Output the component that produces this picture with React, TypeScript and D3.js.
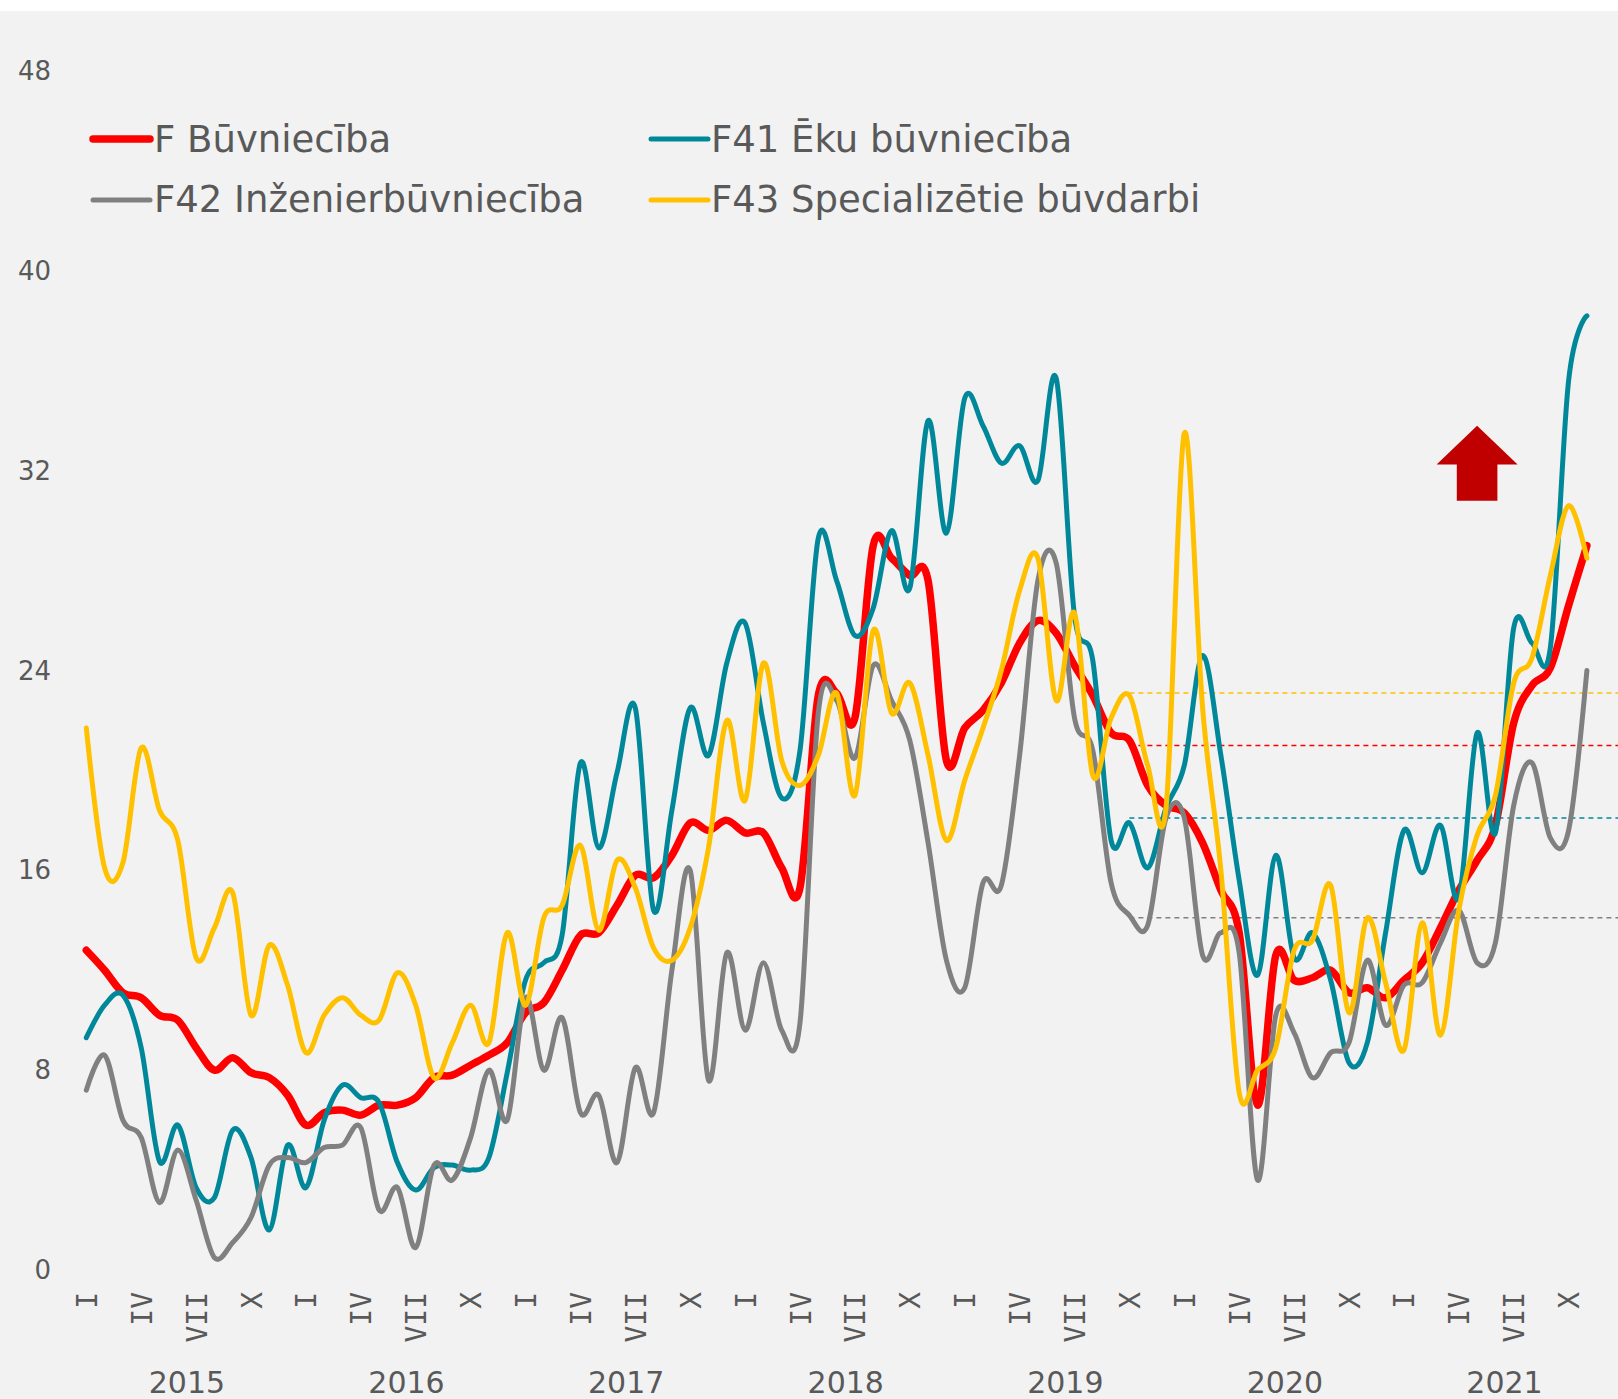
import React from 'react';
import * as d3 from 'd3';

// Monthly data, Jan 2015 .. Nov 2021
const seriesNames = ['F Būvniecība', 'F41 Ēku būvniecība', 'F42 Inženierbūvniecība', 'F43 Specializētie būvdarbi'];
const seriesColors = ['#FF0000', '#00889A', '#808080', '#FFC000'];

const valuesF = [
  12.8, 12.0, 11.1, 10.9, 10.2, 10.0, 8.9, 8.0, 8.5, 7.9, 7.7, 7.0,
  5.8, 6.3, 6.4, 6.2, 6.6, 6.6, 6.9, 7.7, 7.8, 8.2, 8.6, 9.1,
  10.3, 10.7, 12.0, 13.4, 13.5, 14.6, 15.8, 15.7, 16.6, 17.9, 17.6, 18.0,
  17.5, 17.5, 16.1, 15.3, 23.0, 23.1, 22.1, 29.0, 28.5, 27.8, 27.6, 20.4,
  21.7, 22.4, 23.5, 25.1, 26.0, 25.5, 24.2, 23.0, 21.5, 21.2, 19.4, 18.6,
  18.3, 17.1, 15.2, 13.5, 6.6, 12.6, 11.6, 11.7, 12.0, 11.1, 11.3, 10.9,
  11.6, 12.3, 13.7, 15.2, 16.4, 17.8, 21.9, 23.4, 24.1, 26.6, 29.0,
];
const valuesF41 = [
  9.3, 10.6, 11.0, 8.9, 4.35, 5.8, 3.3, 2.9, 5.6, 4.5, 1.6, 5.0,
  3.3, 6.0, 7.4, 6.9, 6.7, 4.3, 3.2, 4.1, 4.2, 4.0, 4.5, 7.9,
  11.6, 12.3, 13.4, 20.3, 16.9, 19.9, 22.5, 14.4, 18.4, 22.5, 20.6, 24.3,
  25.9, 21.9, 18.9, 20.8, 29.3, 27.6, 25.4, 26.5, 29.6, 27.3, 34.0, 29.5,
  34.9, 33.8, 32.3, 33.0, 31.6, 35.7, 26.2, 24.4, 17.2, 17.9, 16.1, 18.5,
  20.2, 24.6, 20.6, 15.6, 11.8, 16.6, 12.5, 13.5, 11.6, 8.3, 9.1, 13.5,
  17.6, 15.9, 17.8, 14.9, 21.5, 17.5, 25.7, 25.1, 24.9, 35.6, 38.2,
];
const valuesF42 = [
  7.2, 8.6, 6.0, 5.3, 2.7, 4.8, 2.8, 0.5, 1.1, 2.1, 4.2, 4.5,
  4.3, 4.9, 5.0, 5.7, 2.4, 3.3, 0.9, 4.2, 3.6, 5.3, 8.0, 6.0,
  10.9, 8.0, 10.1, 6.3, 7.0, 4.3, 8.1, 6.3, 12.0, 16.0, 7.6, 12.7,
  9.6, 12.3, 9.6, 9.9, 22.3, 22.8, 20.5, 24.2, 22.8, 21.2, 17.1, 12.4,
  11.3, 15.5, 15.4, 20.6, 27.6, 28.3, 22.1, 20.8, 15.5, 14.2, 13.8, 18.1,
  18.1, 12.6, 13.5, 12.7, 3.6, 10.2, 9.5, 7.7, 8.7, 9.1, 12.4, 9.8,
  11.4, 11.5, 13.1, 14.4, 12.3, 13.1, 18.6, 20.3, 17.3, 17.6, 24.0,
];
const valuesF43 = [
  21.7, 16.1, 16.3, 20.9, 18.4, 17.2, 12.5, 13.7, 15.1, 10.2, 13.0, 11.4,
  8.7, 10.2, 10.9, 10.2, 10.0, 11.9, 10.6, 7.7, 9.1, 10.6, 9.1, 13.5,
  10.6, 14.1, 14.6, 17.0, 13.6, 16.4, 15.3, 12.9, 12.4, 13.7, 16.9, 22.0,
  18.8, 24.3, 20.4, 19.4, 20.6, 23.1, 19.0, 25.6, 22.3, 23.5, 20.6, 17.2,
  19.6, 21.7, 24.0, 27.2, 28.5, 22.8, 26.3, 19.8, 22.1, 23.0, 20.2, 18.5,
  33.5, 22.5, 16.0, 7.1, 8.0, 8.9, 12.8, 13.2, 15.4, 10.3, 14.1, 11.5,
  8.8, 13.9, 9.4, 14.4, 17.4, 19.0, 23.5, 24.5, 27.8, 30.6, 28.5,
];
// reference (average) levels, drawn from Oct 2019 onward
const averages = [21.0, 18.1, 14.1, 23.1];
const averageStartMonth = 57;

const monthTickLabels = ['I', 'IV', 'VII', 'X'];
const monthTickOffsets = [0, 3, 6, 9];
const yearLabels = ['2015', '2016', '2017', '2018', '2019', '2020', '2021'];
const yTicks = [0, 8, 16, 24, 32, 40, 48];

const FONT = '"DejaVu Sans", Verdana, sans-serif';
const MONTH_FONT = '"DejaVu Sans Mono", "DejaVu Sans", monospace';
const TEXT = '#595959';

export default function App() {
  const W = 1618;
  const H = 1399;
  const allSeries = [valuesF, valuesF41, valuesF42, valuesF43];
  const n = valuesF.length;
  const x = d3.scaleLinear().domain([0, 82]).range([86.3, 86.3 + 18.3 * 82]);
  const y = d3.scaleLinear().domain([0, 48]).range([1270, 71]);
  const line = d3
    .line<number>()
    .x((_, i) => x(i))
    .y((d) => y(d))
    .curve(d3.curveCatmullRom.alpha(0));

  const monthTicks: { m: number; label: string }[] = [];
  yearLabels.forEach((_, yi) => {
    monthTickOffsets.forEach((off, k) => {
      const m = yi * 12 + off;
      if (m < n) monthTicks.push({ m, label: monthTickLabels[k] });
    });
  });

  // arrow annotation (positioned through the scales)
  const ax = x(76);
  const aTip = y(33.8);
  const aShoulder = y(32.25);
  const aBottom = y(30.8);
  const arrowPts = [
    [ax, aTip],
    [ax + 40.5, aShoulder],
    [ax + 20.3, aShoulder],
    [ax + 20.3, aBottom],
    [ax - 20.3, aBottom],
    [ax - 20.3, aShoulder],
    [ax - 40.5, aShoulder],
  ]
    .map((p) => p.join(','))
    .join(' ');

  const legendItems = [
    { i: 0, lx: 93, ly: 139, tx: 154, ty: 152 },
    { i: 1, lx: 651, ly: 139, tx: 711, ty: 152 },
    { i: 2, lx: 93, ly: 200, tx: 154, ty: 212 },
    { i: 3, lx: 651, ly: 200, tx: 711, ty: 212 },
  ];

  return (
    <svg
      width={W}
      height={H}
      style={{ position: 'absolute', left: 0, top: 0 }}
      fontFamily={FONT}
    >
      <rect x={0} y={0} width={W} height={H} fill="#ffffff" />
      <rect x={0} y={11} width={W} height={H - 11} fill="#F2F2F2" />

      {/* y tick labels */}
      {yTicks.map((v) => (
        <text
          key={v}
          x={51}
          y={y(v)}
          textAnchor="end"
          dominantBaseline="central"
          fontSize={26}
          fill={TEXT}
        >
          {v}
        </text>
      ))}

      {/* month labels */}
      {monthTicks.map((t) => (
        <text
          key={t.m}
          transform={`translate(${x(t.m) + 1},1292) rotate(-90)`}
          textAnchor="end"
          dominantBaseline="central"
          fontSize={28}
          fontFamily={MONTH_FONT}
          fill={TEXT}
        >
          {t.label}
        </text>
      ))}

      {/* year labels */}
      {yearLabels.map((yl, yi) => (
        <text
          key={yl}
          x={x(yi * 12 + 5.5)}
          y={1393}
          textAnchor="middle"
          fontSize={30}
          fill={TEXT}
        >
          {yl}
        </text>
      ))}

      {/* average dashed lines */}
      {averages.map((a, i) => (
        <line
          key={'avg' + i}
          x1={x(averageStartMonth)}
          x2={W}
          y1={y(a)}
          y2={y(a)}
          stroke={seriesColors[i]}
          strokeWidth={1.5}
          strokeDasharray="5 4"
        />
      ))}

      {/* series */}
      {allSeries.map((s, i) => (
        <path
          key={'s' + i}
          d={line(s) || ''}
          fill="none"
          stroke={seriesColors[i]}
          strokeWidth={i === 0 ? 7.5 : 5}
          strokeLinecap="round"
          strokeLinejoin="round"
        />
      ))}

      <polygon points={arrowPts} fill="#C00000" />

      {/* legend */}
      {legendItems.map((it) => (
        <g key={'lg' + it.i}>
          <line
            x1={it.lx}
            x2={it.lx + 57}
            y1={it.ly}
            y2={it.ly}
            stroke={seriesColors[it.i]}
            strokeWidth={it.i === 0 ? 7.5 : 5}
            strokeLinecap="round"
          />
          <text x={it.tx} y={it.ty} fontSize={37} fill={TEXT}>
            {seriesNames[it.i]}
          </text>
        </g>
      ))}
    </svg>
  );
}
